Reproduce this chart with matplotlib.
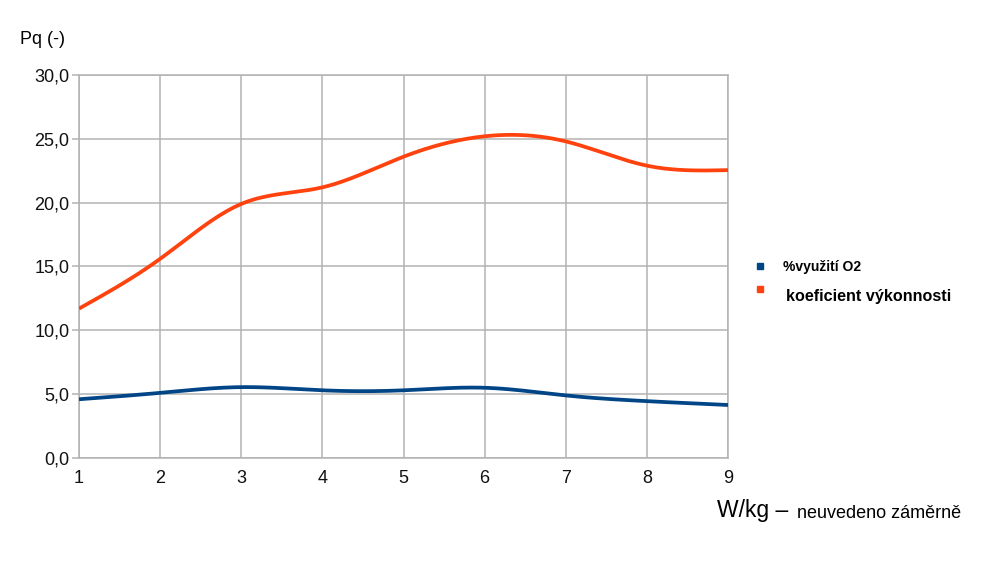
import numpy as np
import matplotlib.pyplot as plt
from matplotlib.lines import Line2D

plt.rcParams['font.family'] = ['Liberation Sans', 'DejaVu Sans']

# data
x_vals = [1, 2, 3, 4, 5, 6, 7, 8, 9]
vyuziti_o2 = [4.6, 5.1, 5.55, 5.3, 5.3, 5.5, 4.9, 4.45, 4.15]
koeficient = [11.7, 15.6, 19.9, 21.2, 23.6, 25.2, 24.8, 22.9, 22.55]
y_ticks = [0, 5, 10, 15, 20, 25, 30]
series_names = ["%využití O2", "koeficient výkonnosti"]
colors = ["#004586", "#ff420e"]


def smooth(x, y, n=300):
    # natural cubic spline, only for drawing the smooth line
    x = np.asarray(x, float)
    y = np.asarray(y, float)
    k = len(x)
    h = np.diff(x)
    A = np.zeros((k, k))
    b = np.zeros(k)
    A[0, 0] = A[-1, -1] = 1
    for i in range(1, k - 1):
        A[i, i - 1] = h[i - 1]
        A[i, i] = 2 * (h[i - 1] + h[i])
        A[i, i + 1] = h[i]
        b[i] = 3 * ((y[i + 1] - y[i]) / h[i] - (y[i] - y[i - 1]) / h[i - 1])
    c = np.linalg.solve(A, b)
    xs = np.linspace(x[0], x[-1], n)
    idx = np.clip(np.searchsorted(x, xs) - 1, 0, k - 2)
    dx = xs - x[idx]
    hi = h[idx]
    bb = (y[idx + 1] - y[idx]) / hi - hi * (2 * c[idx] + c[idx + 1]) / 3
    dd = (c[idx + 1] - c[idx]) / (3 * hi)
    ys = y[idx] + bb * dx + c[idx] * dx ** 2 + dd * dx ** 3
    return xs, ys


fig = plt.figure(figsize=(10, 5.64), dpi=100)
ax = fig.add_axes([0.079, 0.188, 0.649, 0.679])

for vals, col in zip([vyuziti_o2, koeficient], colors):
    xs, ys = smooth(x_vals, vals)
    ax.plot(xs, ys, color=col, lw=2.7, solid_capstyle='butt', zorder=3)

ax.set_xlim(1, 9)
ax.set_ylim(0, 30)
ax.set_xticks(x_vals)
ax.set_yticks(y_ticks)
ax.set_yticklabels([f"{v:.1f}".replace(".", ",") for v in y_ticks])
ax.grid(True, color="#b3b3b3", lw=1.1)
for s in ax.spines.values():
    s.set_color("#b3b3b3")
    s.set_linewidth(1.1)
ax.tick_params(axis='both', colors="#b3b3b3", labelcolor="#111111", labelsize=13,
               length=5, width=1.1)
ax.tick_params(axis='y', pad=2)
ax.tick_params(axis='x', length=0, pad=9)

fig.text(0.02, 0.93, "Pq (-)", fontsize=13, va='center')

# legend drawn by hand (two different font sizes)
fig.add_artist(Line2D([0.760], [1 - 266 / 564], marker='s', ms=4, color=colors[0],
                      ls='none', transform=fig.transFigure))
fig.text(0.783, 1 - 267 / 564, series_names[0], fontsize=10, fontweight='bold', va='center')
fig.add_artist(Line2D([0.760], [1 - 289 / 564], marker='s', ms=4, color=colors[1],
                      ls='none', transform=fig.transFigure))
fig.text(0.786, 1 - 297 / 564, series_names[1], fontsize=11.6, fontweight='bold', va='center')

fig.text(0.717, 1 - 511 / 564, "W/kg –", fontsize=16.5, va='center')
fig.text(0.797, 1 - 513 / 564, "neuvedeno záměrně", fontsize=13, va='center')

fig.savefig("out.png", dpi=100)
